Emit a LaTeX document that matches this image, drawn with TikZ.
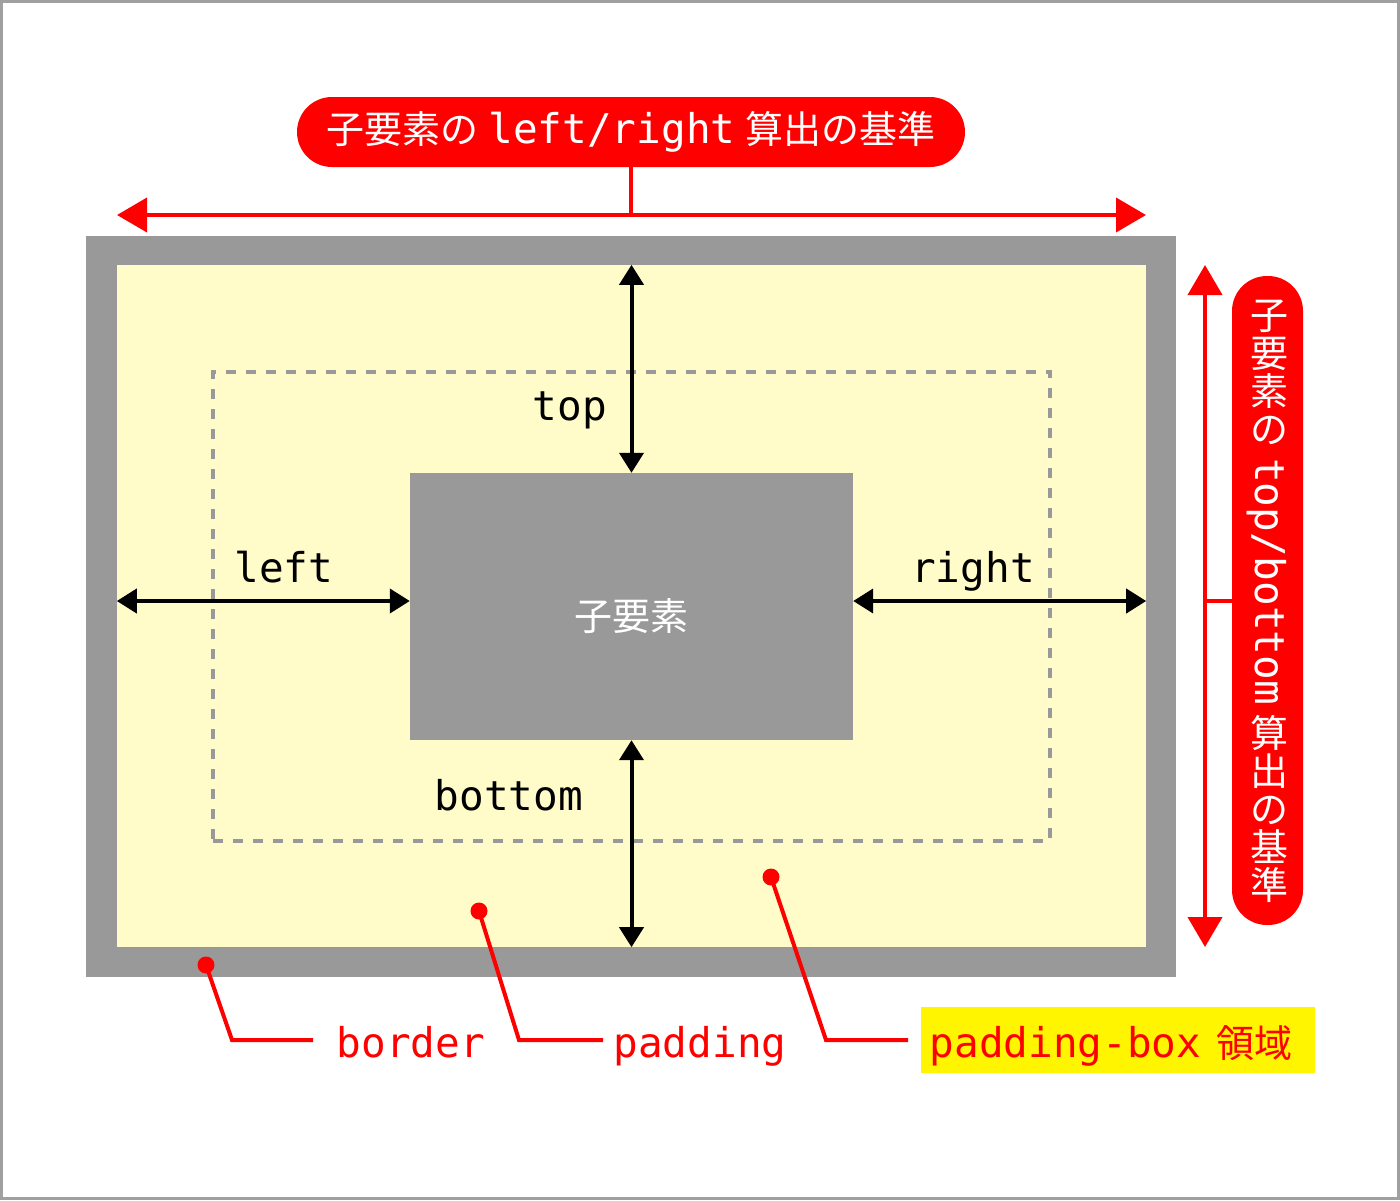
\documentclass[tikz,border=0pt]{standalone}
\usepackage{fontspec}
\setmonofont{DejaVu Sans Mono}
\newfontfamily\jpfont{Noto Sans CJK JP}
\usetikzlibrary{arrows.meta,positioning}

\definecolor{boxgray}{HTML}{999999}
\definecolor{padyellow}{HTML}{FFFCCA}
\definecolor{hlyellow}{HTML}{FFF500}
\definecolor{framegray}{HTML}{A0A0A0}
\newcommand\jp[1]{{\jpfont\fontsize{38}{44}\selectfont #1}}
\newcommand\upjp[1]{\rotatebox[origin=c]{90}{\jp{\rule[-0.13em]{0pt}{1.0em}#1}}}

\begin{document}
\begin{tikzpicture}[x=1pt,y=-1pt,font=\ttfamily\fontsize{41}{48}\selectfont]
		\tikzstyle{borderbox}=[fill=boxgray,minimum width=1090pt,minimum height=741pt,inner sep=0pt]
		\tikzstyle{padbox}=[fill=padyellow,minimum width=1029pt,minimum height=682pt,inner sep=0pt]
		\tikzstyle{areabox}=[draw=boxgray,line width=4pt,dash pattern=on 10pt off 10pt,minimum width=837pt,minimum height=469pt,inner sep=0pt]
		\tikzstyle{childbox}=[fill=boxgray,minimum width=443pt,minimum height=267pt,inner sep=0pt]
		\tikzstyle{pill}=[fill=red,text=white,rounded corners=35pt,minimum height=70pt,inner sep=0pt]
		\tikzstyle{blkarrow}=[line width=4pt,arrows={Triangle[length=20pt,width=24pt]-Triangle[length=20pt,width=24pt]}]
		\tikzstyle{redarrow}=[red,line width=4pt,arrows={Triangle[length=30pt,width=34pt]-Triangle[length=30pt,width=34pt]}]
		\tikzstyle{redline}=[red,line width=4pt]
		\tikzstyle{leader}=[red,line width=4pt]
		\tikzstyle{callout}=[circle,fill=red,minimum size=17pt,inner sep=0pt]
		\tikzstyle{redlbl}=[text=red,inner sep=0pt,anchor=base]
		
		\draw [framegray,line width=3pt] (1.5,1.5) rectangle (1398.5,1198.5);
		\useasboundingbox (0,0) rectangle (1400,1200);
		
		% boxes
		\node[borderbox] (border) at (631,606.5) {};
		\node[padbox] (pad) at (631.5,606) {};
		\node[areabox] (area) at (631.5,606.5) {};
		\node[childbox] (child) at (631.5,606.5) {};
		\node[text=white] (childtxt) at ([yshift=-10pt]child.center) {\jp{子要素}};
		
		\draw [blkarrow] (child.north) -- (child.north |- pad.north);
		\draw [blkarrow] (child.south) -- (child.south |- pad.south);
		\draw [blkarrow] ([yshift=5.5pt]child.west) -- ([yshift=5.5pt]child.west -| pad.west);
		\draw [blkarrow] ([yshift=5.5pt]child.east) -- ([yshift=5.5pt]child.east -| pad.east);
		
		\node[anchor=base] (top) at (570,420) {top};
		\node[anchor=base] (left) at (284,582) {left};
		\node[anchor=base] (right) at (973,582) {right};
		\node[anchor=base] (bottom) at (509,810) {bottom};
		
		% left/right
		\node[pill,minimum width=668pt] (lrpill) at (631,132) {\jp{子要素の}\hspace{10pt}left/right\hspace{10pt}\jp{算出の基準}};
		\coordinate (lrL) at (117,215);
		\coordinate (lrR) at (1146,215);
		\draw [redarrow] (lrL) -- (lrR);
		\draw [redline] (lrpill.south) -- (lrpill.south |- lrL);
		
		% top/bottom
		\node[pill,rotate=-90,minimum width=649pt,minimum height=71pt] (tbpill) at (1267.5,600.5) {\upjp{子}\upjp{要}\upjp{素}\upjp{の}\hspace{10pt}top/bottom\hspace{10pt}\upjp{算}\upjp{出}\upjp{の}\upjp{基}\upjp{準}};
		\coordinate (tbT) at (1205,265);
		\coordinate (tbB) at (1205,947);
		\draw [redarrow] (tbT) -- (tbB);
		\draw [redline] (tbpill.south) -- (tbpill.south -| tbT);
		
		% callouts
		\node[callout] (dBorder) at (206,965) {};
		\node[callout] (dPad) at (479,911) {};
		\node[callout] (dBox) at (771,877) {};
		\coordinate (kBorder) at (232,1040);
		\coordinate (kPad) at (519,1040);
		\coordinate (kBox) at (826,1040);
		\coordinate (eBorder) at (313,1040);
		\coordinate (ePad) at (603,1040);
		\coordinate (eBox) at (908,1040);
		\node[redlbl] (lBorder) at (411,1057) {border};
		\node[redlbl] (lPad) at (700,1057) {padding};
		\node[text=red,fill=hlyellow,inner sep=0pt,text height=34pt,text depth=0pt,minimum width=394pt,minimum height=66pt] (lBox) at (1118,1040) {padding-box\hspace{15pt}\jp{領域}\kern14pt};
		\draw [leader] (dBorder.center) -- (kBorder) -- (eBorder);
		\draw [leader] (dPad.center) -- (kPad) -- (ePad);
		\draw [leader] (dBox.center) -- (kBox) -- (eBox);
		\end{tikzpicture}
\end{document}
